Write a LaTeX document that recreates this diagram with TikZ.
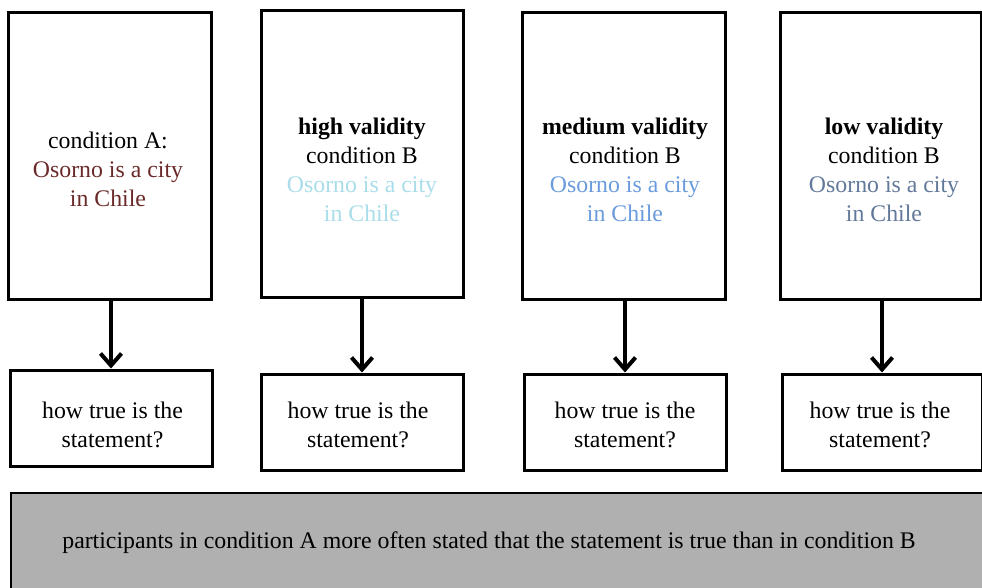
\documentclass[tikz,border=0pt]{standalone}
\usepackage{fontspec}
\setmainfont{Liberation Serif}
\usepackage{tikz}
\usetikzlibrary{arrows.meta}
\definecolor{condA}{HTML}{6B2A2A}
\definecolor{highB}{HTML}{A9DDEA}
\definecolor{mediumB}{HTML}{6A9BDC}
\definecolor{lowB}{HTML}{62799A}
\definecolor{resgray}{HTML}{B0B0B0}
\tikzstyle{condbox}=[rectangle, draw, line width=3pt, inner sep=0pt, minimum width=203pt, minimum height=287pt]
\tikzstyle{askbox}=[rectangle, draw, line width=3pt, inner sep=0pt, minimum width=202pt, minimum height=96pt]
\tikzstyle{boxtext}=[align=center, inner sep=0pt, font=\fontsize{23.8}{29}\selectfont]
\tikzstyle{pointer}=[line width=4pt, -{Straight Barb[length=12pt, width=21pt]}]

\begin{document}
\begin{tikzpicture}[x=1pt, y=-1pt]
\useasboundingbox (0,0) rectangle (982,587);
% condition boxes
    \node[condbox] (ca) at (109.5,155.5) {};
    \node[condbox, minimum width=202pt] (chigh) at (362,153.5) {};
    \node[condbox] (cmed) at (623.5,155.5) {};
    \node[condbox, minimum width=201pt] (clow) at (880.5,155.5) {};
    \node[boxtext] (tA) at (108,169) {condition A:\\ \textcolor{condA}{Osorno is a city}\\ \textcolor{condA}{in Chile}};
    \node[boxtext] (thigh) at (362,170) {\textbf{high validity}\\ condition B\\ \textcolor{highB}{Osorno is a city}\\ \textcolor{highB}{in Chile}};
    \node[boxtext] (tmed) at (625,170) {\textbf{medium validity}\\ condition B\\ \textcolor{mediumB}{Osorno is a city}\\ \textcolor{mediumB}{in Chile}};
    \node[boxtext] (tlow) at (884,170) {\textbf{low validity}\\ condition B\\ \textcolor{lowB}{Osorno is a city}\\ \textcolor{lowB}{in Chile}};

% question boxes
    \node[askbox] (qa) at (111,418) {};
    \node[askbox] (qhigh) at (362,422) {};
    \node[askbox] (qmed) at (625,422) {};
    \node[askbox, minimum width=200pt] (qlow) at (882,422) {};
    \node[boxtext] (tqa) at (112.5,425) {how true is the\\ statement?};
    \node[boxtext] (tqhigh) at (358,425) {how true is the\\ statement?};
    \node[boxtext] (tqmed) at (625,425) {how true is the\\ statement?};
    \node[boxtext] (tqlow) at (880,425) {how true is the\\ statement?};

    \draw[pointer] (ca.south -| qa.north) -- (qa.north);
    \draw[pointer] (chigh.south) -- (qhigh.north);
    \draw[pointer] (cmed.south -| qmed.north) -- (qmed.north);
    \draw[pointer] (clow.south -| qlow.north) -- (qlow.north);

% result
    \node[rectangle, draw, line width=2pt, fill=resgray, inner sep=0pt, minimum width=990pt, minimum height=110pt, anchor=north west] (res) at (10,492) {};
    \node[boxtext] (tres) at (489,543) {participants in condition A more often stated that the statement is true than in condition B};
\end{tikzpicture}
\end{document}
